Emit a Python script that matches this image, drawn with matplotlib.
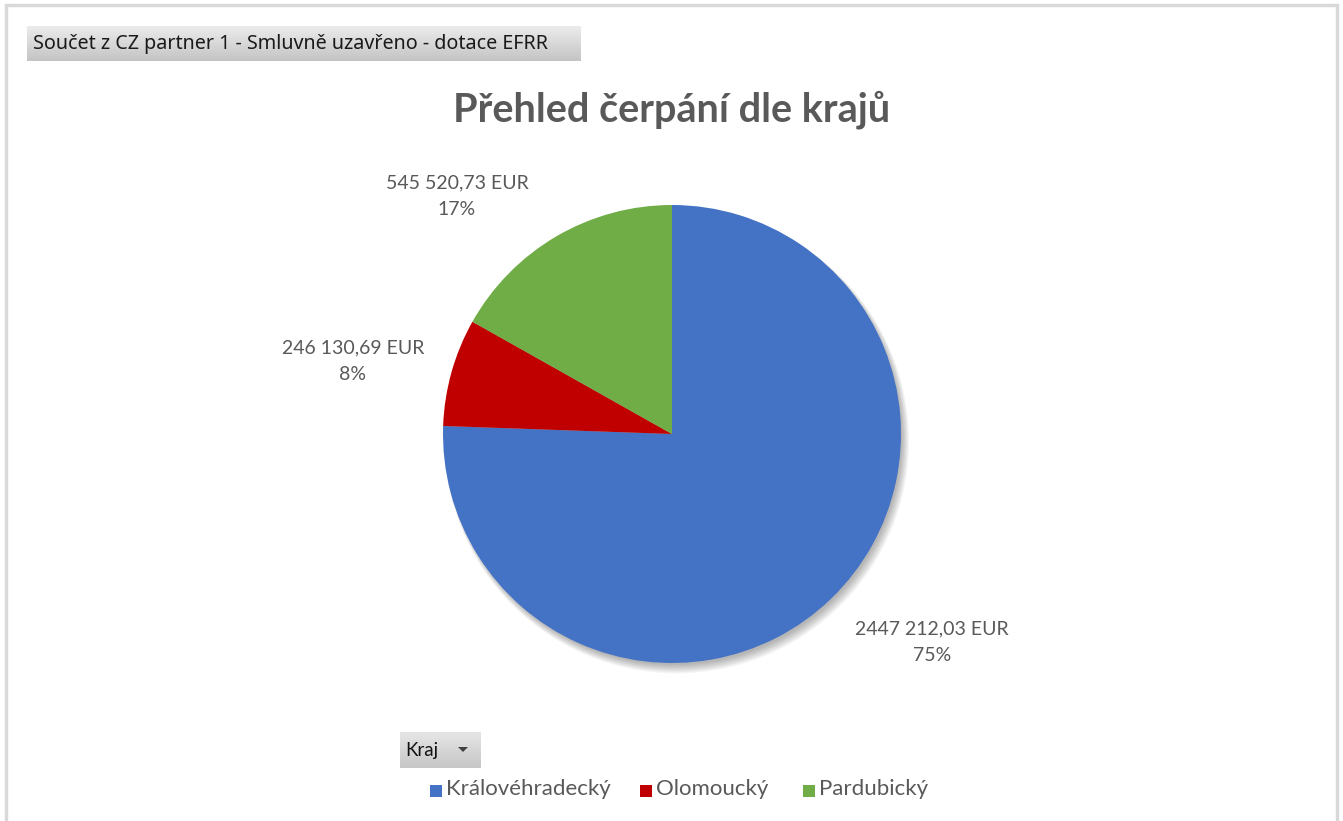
import numpy as np
import matplotlib.pyplot as plt
from matplotlib.patches import Circle, Rectangle, Polygon

# data
kraje = ['Královéhradecký', 'Olomoucký', 'Pardubický']
hodnoty = [2447212.03, 246130.69, 545520.73]
hodnoty_text = ['2447 212,03 EUR', '246 130,69 EUR', '545 520,73 EUR']
procenta = [75, 8, 17]
barvy = ['#4472C4', '#C00000', '#70AD47']

titulek = 'Přehled čerpání dle krajů'
pole_hodnot = 'Součet z CZ partner 1 - Smluvně uzavřeno - dotace EFRR'
pole_osy = 'Kraj'

W, H = 1343, 821
# pixel positions of the data labels (centre of the two-line block)
label_pos = [(932, 642), (353, 361), (457, 196)]

fig = plt.figure(figsize=(W / 100, H / 100), dpi=100)
ax = fig.add_axes([0, 0, 1, 1])


def py(y):
    # pixel row -> data y
    return H - y


cx, cy, r = 672, py(434), 229

# soft drop shadow under the pie (down-right)
for k in range(8):
    ax.add_patch(Circle((cx + 2 + k * 0.4, cy - 3 - k * 0.6), r - 1 + k * 0.6,
                        color='black', alpha=0.04, lw=0, zorder=1))

wedges, _ = ax.pie(hodnoty, colors=barvy, startangle=90, counterclock=False,
                   center=(cx, cy), radius=r, frame=True,
                   wedgeprops=dict(linewidth=0))
for w in wedges:
    w.set_zorder(2)

for txt, p, (lx, ly) in zip(hodnoty_text, procenta, label_pos):
    ax.text(lx, py(ly), f'{txt}\n{p}%',
            ha='center', va='center', fontsize=14, color='#595959',
            family='Lato', linespacing=1.65, zorder=5)

ax.text(cx, py(110), titulek, ha='center', va='center', fontsize=28.5,
        fontweight='bold', color='#595959', family='Lato', zorder=5)


def gradient_box(x0, y0, x1, y1, top, bottom):
    g = np.linspace(0, 1, 64)[:, None]
    c0 = np.array(plt.matplotlib.colors.to_rgb(top))
    c1 = np.array(plt.matplotlib.colors.to_rgb(bottom))
    img = (c0 * (1 - g) + c1 * g)[:, None, :].repeat(2, axis=1)
    ax.imshow(img, extent=(x0, x1, py(y1), py(y0)), aspect='auto',
              origin='upper', zorder=3, interpolation='bilinear')


# value field button
gradient_box(27, 26, 581, 61, '#ececec', '#c4c4c4')
ax.text(33, py(44), pole_hodnot, ha='left', va='center', fontsize=14.2,
        color='#1a1a1a', family='Noto Sans', zorder=5)

# axis field button
gradient_box(400, 732, 481, 768, '#e6e6e6', '#c6c6c6')
ax.text(405, py(750), pole_osy, ha='left', va='center', fontsize=13.5,
        color='#111111', family='Lato', zorder=5)
ax.add_patch(Polygon([(458, py(747)), (468, py(747)), (463, py(752))],
                     closed=True, color='#404040', lw=0, zorder=5))

# legend
leg_x = [430, 640, 803]
for x, k, c in zip(leg_x, kraje, barvy):
    ax.add_patch(Rectangle((x, py(797)), 12, 12, color=c, lw=0, zorder=5))
    ax.text(x + 16, py(789), k, ha='left', va='center', fontsize=16,
            color='#595959', family='Lato', zorder=5)

# chart area border
ax.plot([6, 6, 1337, 1337], [0, py(5), py(5), 0], color='#d9d9d9', lw=2.5,
        zorder=6, solid_joinstyle='miter')

ax.set_xlim(0, W)
ax.set_ylim(0, H)
ax.set_aspect('auto')
ax.axis('off')

fig.savefig('out.png', dpi=100, facecolor='white')
